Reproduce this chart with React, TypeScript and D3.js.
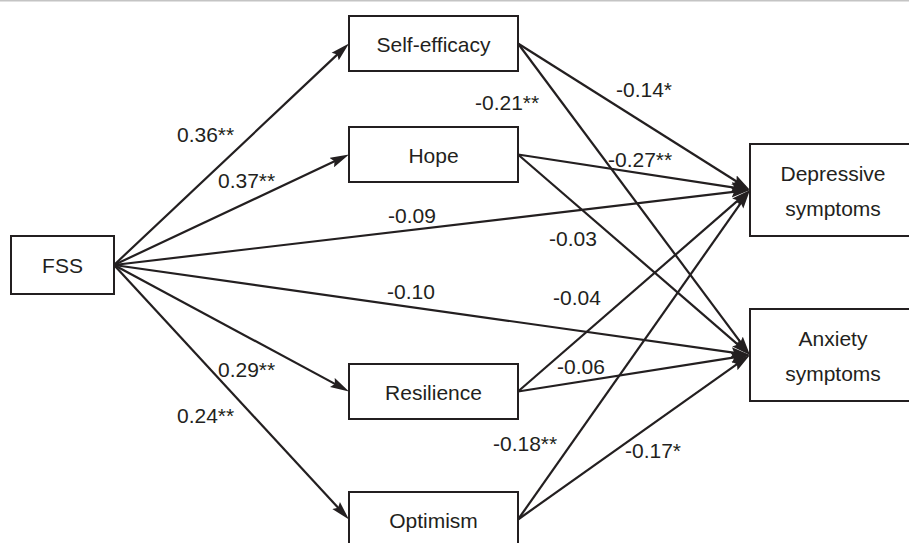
import { useEffect, useRef } from "react"
import * as d3 from "d3"

// path model: nodes, paths and standardized coefficients
const predictor = "FSS"
const mediators = ["Self-efficacy", "Hope", "Resilience", "Optimism"]
const outcomes = ["Depressive symptoms", "Anxiety symptoms"]

const pathFrom = [
  "FSS", "FSS", "FSS", "FSS", "FSS", "FSS",
  "Self-efficacy", "Self-efficacy", "Hope", "Hope",
  "Resilience", "Resilience", "Optimism", "Optimism",
]
const pathTo = [
  "Self-efficacy", "Hope", "Depressive symptoms", "Anxiety symptoms", "Resilience", "Optimism",
  "Depressive symptoms", "Anxiety symptoms", "Depressive symptoms", "Anxiety symptoms",
  "Depressive symptoms", "Anxiety symptoms", "Depressive symptoms", "Anxiety symptoms",
]
const pathLabels = [
  "0.36**", "0.37**", "-0.09", "-0.10", "0.29**", "0.24**",
  "-0.14*", "-0.21**", "-0.27**", "-0.03",
  "-0.04", "-0.06", "-0.18**", "-0.17*",
]

// layout (pixels)
const boxes: Record<string, { x: number; y: number; w: number; h: number }> = {
  "FSS": { x: 11, y: 236, w: 103, h: 58 },
  "Self-efficacy": { x: 349, y: 16, w: 169, h: 55 },
  "Hope": { x: 349, y: 127, w: 169, h: 55 },
  "Resilience": { x: 349, y: 364, w: 169, h: 55 },
  "Optimism": { x: 349, y: 492, w: 169, h: 55 },
  "Depressive symptoms": { x: 750, y: 144, w: 166, h: 92 },
  "Anxiety symptoms": { x: 750, y: 309, w: 166, h: 92 },
}
const labelPos: [number, number][] = [
  [177, 142], [218, 188], [388, 223], [387, 299], [218, 377], [177, 423],
  [616, 97], [475, 110], [608, 167], [549, 246],
  [553, 305], [557, 374], [493, 451], [625, 458],
]

const ink = "#231f20"
const font = "'Liberation Sans', Arial, Helvetica, sans-serif"
const fontSize = 21

export default function App() {
  const svgRef = useRef<SVGSVGElement>(null)

  useEffect(() => {
    if (!svgRef.current) return
    document.body.style.margin = "0"

    const width = 909
    const height = 543
    const svg = d3.select(svgRef.current)
    svg.selectAll("*").remove()
    svg.attr("width", width).attr("height", height).attr("viewBox", `0 0 ${width} ${height}`)

    svg.append("rect").attr("width", width).attr("height", height).attr("fill", "#fff")
    svg.append("rect").attr("x", 0).attr("y", 0).attr("width", width).attr("height", 1.5).attr("fill", "#c4c4c4")

    const defs = svg.append("defs")
    const headLen = 19
    const shorten = 6
    defs.append("marker")
      .attr("id", "arrow")
      .attr("markerUnits", "userSpaceOnUse")
      .attr("markerWidth", headLen)
      .attr("markerHeight", 11)
      .attr("viewBox", `0 0 ${headLen} 11`)
      .attr("refX", headLen - shorten)
      .attr("refY", 5.5)
      .attr("orient", "auto")
      .append("path")
      .attr("d", `M0,0.3 L${headLen},5.5 L0,10.7 L3,5.5 Z`)
      .attr("fill", ink)

    const right = (n: string) => [boxes[n].x + boxes[n].w, boxes[n].y + boxes[n].h / 2]
    const left = (n: string) => [boxes[n].x, boxes[n].y + boxes[n].h / 2]

    const edges = pathFrom.map((f, i) => {
      const [x1, y1] = right(f)
      const [x2, y2] = left(pathTo[i])
      const len = Math.hypot(x2 - x1, y2 - y1)
      return {
        x1, y1,
        x2: x2 - ((x2 - x1) / len) * shorten,
        y2: y2 - ((y2 - y1) / len) * shorten,
        label: pathLabels[i],
        lx: labelPos[i][0],
        ly: labelPos[i][1],
      }
    })

    const g = svg.append("g")

    g.selectAll("line.path")
      .data(edges)
      .join("line")
      .attr("class", "path")
      .attr("x1", d => d.x1)
      .attr("y1", d => d.y1)
      .attr("x2", d => d.x2)
      .attr("y2", d => d.y2)
      .attr("stroke", ink)
      .attr("stroke-width", 2.2)
      .attr("marker-end", "url(#arrow)")

    g.selectAll("text.coef")
      .data(edges)
      .join("text")
      .attr("class", "coef")
      .attr("x", d => d.lx)
      .attr("y", d => d.ly)
      .style("font-family", font)
      .style("font-size", `${fontSize}px`)
      .attr("fill", ink)
      .text(d => d.label)

    const allNodes = [predictor, ...mediators, ...outcomes]
    const node = g.selectAll("g.node")
      .data(allNodes)
      .join("g")
      .attr("class", "node")

    node.append("rect")
      .attr("x", d => boxes[d].x)
      .attr("y", d => boxes[d].y)
      .attr("width", d => boxes[d].w)
      .attr("height", d => boxes[d].h)
      .attr("fill", "#fff")
      .attr("stroke", ink)
      .attr("stroke-width", 2)

    node.each(function (d) {
      const b = boxes[d]
      const cx = b.x + b.w / 2
      const cy = b.y + b.h / 2
      const sel = d3.select(this)
      if (outcomes.includes(d)) {
        const [l1, l2] = d.split(" ")
        sel.append("text").attr("x", cx).attr("y", cy - 9).text(l1)
        sel.append("text").attr("x", cx).attr("y", cy + 26).text(l2)
      } else {
        sel.append("text").attr("x", cx).attr("y", cy + 8).text(d)
      }
      sel.selectAll("text")
        .attr("text-anchor", "middle")
        .attr("fill", ink)
        .style("font-family", font)
        .style("font-size", `${fontSize}px`)
    })
  }, [])

  return <svg ref={svgRef} style={{ display: "block" }} />
}
